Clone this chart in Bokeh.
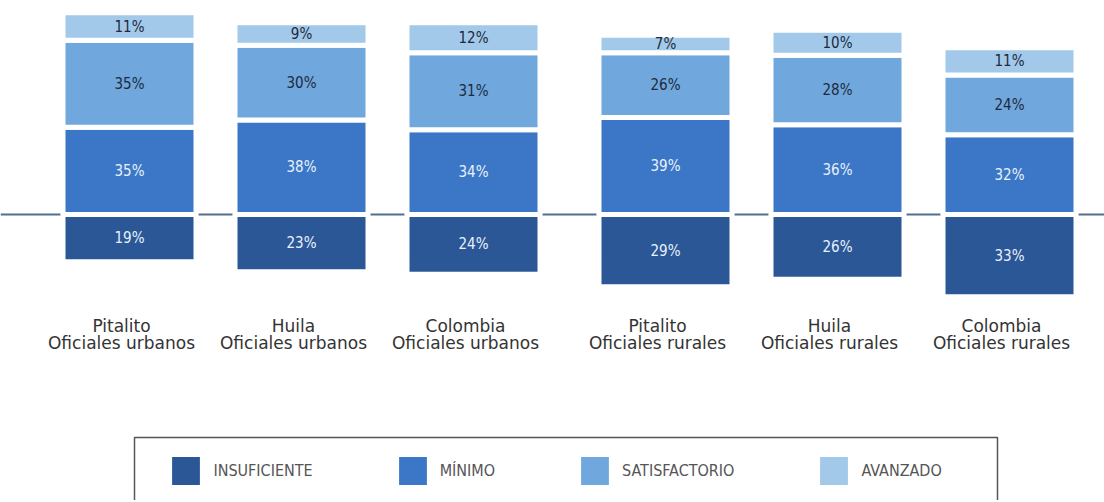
from bokeh.plotting import figure
from bokeh.models import ColumnDataSource, Range1d, Legend, LegendItem, BoxAnnotation
from bokeh.core.properties import value
from bokeh.embed import file_html
from bokeh.resources import INLINE

# ---------------- data ----------------
locations = ["Pitalito", "Huila", "Colombia", "Pitalito", "Huila", "Colombia"]
sectors = ["Oficiales urbanos"] * 3 + ["Oficiales rurales"] * 3
insuficiente = [19, 23, 24, 29, 26, 33]
minimo = [35, 38, 34, 39, 36, 32]
satisfactorio = [35, 30, 31, 26, 28, 24]
avanzado = [11, 9, 12, 7, 10, 11]
levels = ["INSUFICIENTE", "MÍNIMO", "SATISFACTORIO", "AVANZADO"]

# ---------------- layout / style ----------------
colors = ["#2b5797", "#3b77c6", "#70a7dd", "#a2c8ea"]
W, H = 1104, 500
SLOT = 172.0           # px per bar slot
GROUP_GAP = 20 / SLOT  # extra gap between urban and rural groups
BAR_W = 133 / SLOT
PX_PER_PCT = 2.49
BASE = 214             # baseline distance from top of canvas (px)
FIRST = 129            # first bar centre from left of canvas (px)

group = [0 if s.endswith("urbanos") else 1 for s in sectors]
xs = [i + GROUP_GAP * g for i, g in enumerate(group)]

x_start = -FIRST / SLOT
x_end = x_start + W / SLOT
y_end = BASE / PX_PER_PCT
y_start = -(H - BASE) / PX_PER_PCT

src = ColumnDataSource(dict(
    x=xs,
    ins_neg=[-v for v in insuficiente],
    minimo=minimo,
    satisfactorio=satisfactorio,
    avanzado=avanzado,
    loc=locations,
    sector=sectors,
))

p = figure(width=W, height=H, x_range=Range1d(x_start, x_end), y_range=Range1d(y_start, y_end),
           output_backend="svg", toolbar_location=None,
           x_axis_location=None, y_axis_location=None, min_border=0,
           outline_line_color=None, background_fill_color="white")
for g in p.grid:
    g.visible = False

# baseline
p.hspan(y=[0], line_color="#50708f", line_width=2)

r_ins = p.vbar(x="x", top=0, bottom="ins_neg", width=BAR_W, source=src,
               fill_color=colors[0], line_color="white", line_width=5)
stack = p.vbar_stack(["minimo", "satisfactorio", "avanzado"], x="x", width=BAR_W, source=src,
                     fill_color=colors[1:], line_color="white", line_width=5)
renderers = [r_ins] + list(stack)

# value labels
label_light = "#e8f1fb"
label_dark = "#1d2b3c"
mids = {
    "ins": [-v / 2 for v in insuficiente],
    "min": [m / 2 for m in minimo],
    "sat": [m + s / 2 for m, s in zip(minimo, satisfactorio)],
    "av": [m + s + a / 2 for m, s, a in zip(minimo, satisfactorio, avanzado)],
}
vals = {"ins": insuficiente, "min": minimo, "sat": satisfactorio, "av": avanzado}
tcol = {"ins": label_light, "min": label_light, "sat": label_dark, "av": label_dark}
for k in ["ins", "min", "sat", "av"]:
    p.text(x=xs, y=mids[k], text=[f"{v}%" for v in vals[k]],
           text_align="center", text_baseline="middle",
           text_font=value("DejaVu Sans Condensed"), text_font_size="15px",
           text_color=tcol[k])

# category labels (two lines, anchored at the baseline)
p.text(x="x", y=0, text="loc", source=src, x_offset=-8, y_offset=111,
       text_align="center", text_baseline="middle",
       text_font=value("DejaVu Sans"), text_font_size="17px", text_color="#333333")
p.text(x="x", y=0, text="sector", source=src, x_offset=-8, y_offset=128,
       text_align="center", text_baseline="middle",
       text_font=value("DejaVu Sans"), text_font_size="17px", text_color="#333333")

# legend frame
box = BoxAnnotation(left=134, right=997, top=437, bottom=H + 20,
                    left_units="canvas", right_units="canvas",
                    top_units="canvas", bottom_units="canvas",
                    fill_alpha=0, line_color="#555555", line_alpha=1.0, line_width=1.5)
p.add_layout(box)

G = 41  # legend glyph box; area legend draws 80% of it, minus the white outline
legend = Legend(items=[LegendItem(label=value(lbl), renderers=[r]) for lbl, r in zip(levels, renderers)],
                orientation="horizontal", location=(165.4, H - 491.4),
                glyph_width=G, glyph_height=G, label_standoff=7, spacing=79,
                padding=0, margin=0, border_line_color=None, background_fill_alpha=0,
                label_text_font="DejaVu Sans Condensed", label_text_font_size="16px",
                label_text_color="#555555")
p.add_layout(legend)

open("out.html", "w").write(file_html(p, INLINE))
